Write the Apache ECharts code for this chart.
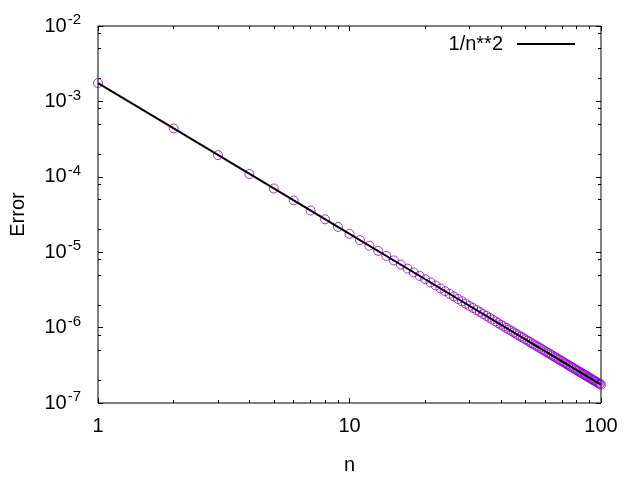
<!DOCTYPE html>
<html>
<head>
<meta charset="utf-8">
<script src="https://cdn.jsdelivr.net/npm/echarts@6/dist/echarts.min.js"></script>
<style>html,body{margin:0;padding:0;background:#fff}#c{width:640px;height:480px}</style>
</head>
<body>
<div id="c"></div>
<script>
const nValues = [1,2,3,4,5,6,7,8,9,10,11,12,13,14,15,16,17,18,19,20,21,22,23,24,25,26,27,28,29,30,31,32,33,34,35,36,37,38,39,40,41,42,43,44,45,46,47,48,49,50,51,52,53,54,55,56,57,58,59,60,61,62,63,64,65,66,67,68,69,70,71,72,73,74,75,76,77,78,79,80,81,82,83,84,85,86,87,88,89,90,91,92,93,94,95,96,97,98,99,100];
const errValues = [1.75e-3,4.38e-4,1.94e-4,1.09e-4,7.00e-5,4.86e-5,3.57e-5,2.73e-5,2.16e-5,1.75e-5,
1.45e-5,1.22e-5,1.04e-5,8.93e-6,7.78e-6,6.84e-6,6.06e-6,5.40e-6,4.85e-6,4.38e-6,
3.97e-6,3.62e-6,3.31e-6,3.04e-6,2.80e-6,2.59e-6,2.40e-6,2.23e-6,2.08e-6,1.94e-6,
1.82e-6,1.71e-6,1.61e-6,1.51e-6,1.43e-6,1.35e-6,1.28e-6,1.21e-6,1.15e-6,1.09e-6,
1.04e-6,9.92e-7,9.46e-7,9.04e-7,8.64e-7,8.27e-7,7.92e-7,7.60e-7,7.29e-7,7.00e-7,
6.73e-7,6.47e-7,6.23e-7,6.00e-7,5.79e-7,5.58e-7,5.39e-7,5.20e-7,5.03e-7,4.86e-7,
4.70e-7,4.55e-7,4.41e-7,4.27e-7,4.14e-7,4.02e-7,3.90e-7,3.78e-7,3.68e-7,3.57e-7,
3.47e-7,3.38e-7,3.28e-7,3.20e-7,3.11e-7,3.03e-7,2.95e-7,2.88e-7,2.80e-7,2.73e-7,
2.67e-7,2.60e-7,2.54e-7,2.48e-7,2.42e-7,2.37e-7,2.31e-7,2.26e-7,2.21e-7,2.16e-7,
2.11e-7,2.07e-7,2.02e-7,1.98e-7,1.94e-7,1.90e-7,1.86e-7,1.82e-7,1.79e-7,1.75e-7];
const lineN = [1,2,5,10,20,50,100];
const lineValues = [1.75e-3,4.38e-4,7.0e-5,1.75e-5,4.38e-6,7.0e-7,1.75e-7];
const lineName = '1/n**2';
const xMajorTicks = [1,10,100];
const xMinorTicks = [2,3,4,5,6,7,8,9,20,30,40,50,60,70,80,90];
const yMajorTicks = [1e-7,1e-6,1e-5,1e-4,1e-3,1e-2];
const yMinorTicks = [2e-7,5e-7,8e-7,2e-6,5e-6,8e-6,2e-5,5e-5,8e-5,2e-4,5e-4,8e-4,2e-3,5e-3,8e-3];

const FONT = "'Liberation Sans', Arial, sans-serif";
const FS = 20;
const chart = echarts.init(document.getElementById('c'));

function xAx(pos, major, withLabel) {
  return {
    type: 'log', logBase: 10, min: 1, max: 100, position: pos,
    axisLine: {show: false},
    splitLine: {show: false}, minorTick: {show: false},
    axisTick: {show: true, inside: true, length: major ? 5 : 3,
      lineStyle: {color: '#000', width: 1},
      customValues: major ? xMajorTicks : xMinorTicks},
    axisLabel: withLabel ? {show: true, customValues: xMajorTicks, color: '#000',
      fontSize: FS, fontFamily: FONT, margin: 13,
      formatter: v => String(Math.round(v))} : {show: false},
    name: withLabel ? 'n' : '', nameLocation: 'middle', nameGap: 52,
    nameTextStyle: {color: '#000', fontSize: FS, fontFamily: FONT}
  };
}
function yAx(pos, major, withLabel) {
  return {
    type: 'log', logBase: 10, min: 1e-7, max: 1e-2, position: pos,
    axisLine: {show: false},
    splitLine: {show: false}, minorTick: {show: false},
    axisTick: {show: true, inside: true, length: major ? 5 : 3,
      lineStyle: {color: '#000', width: 1},
      customValues: major ? yMajorTicks : yMinorTicks},
    axisLabel: withLabel ? {show: true, customValues: yMajorTicks, color: '#000',
      fontFamily: FONT, margin: 17,
      formatter: v => '{b|10}{s|' + Math.round(Math.log10(v)) + '}',
      rich: {
        b: {fontSize: FS, fontFamily: FONT, color: '#000'},
        s: {fontSize: 15, fontFamily: FONT, color: '#000', padding: [0, 0, 12, 1]}
      }} : {show: false},
    name: withLabel ? 'Error' : '', nameLocation: 'middle', nameGap: 70, nameRotate: 90,
    nameTextStyle: {color: '#000', fontSize: FS, fontFamily: FONT}
  };
}

chart.setOption({
  animation: false,
  backgroundColor: '#fff',
  grid: {left: 95, right: 39, top: 26, bottom: 77, show: true,
    borderColor: '#000', borderWidth: 1, backgroundColor: 'transparent'},
  legend: {
    data: [{name: lineName, icon: 'rect'}],
    right: 60, top: 29, align: 'right',
    itemWidth: 58, itemHeight: 2,
    textStyle: {color: '#000', fontSize: FS, fontFamily: FONT, padding: [0, 9, 0, 0]}
  },
  xAxis: [xAx('bottom', true, true), xAx('bottom', false, false), xAx('top', true, false), xAx('top', false, false)],
  yAxis: [yAx('left', true, true), yAx('left', false, false), yAx('right', true, false), yAx('right', false, false)],
  series: [
    {
      type: 'scatter', name: 'data', xAxisIndex: 0, yAxisIndex: 0,
      data: nValues.map((n, i) => [n, errValues[i]]),
      symbol: 'circle', symbolSize: 9,
      itemStyle: {color: 'rgba(0,0,0,0)', borderColor: '#9400d3', borderWidth: 1},
      z: 2
    },
    {
      type: 'line', name: lineName, xAxisIndex: 0, yAxisIndex: 0,
      data: lineN.map((n, i) => [n, lineValues[i]]),
      showSymbol: false, symbol: 'none',
      lineStyle: {color: '#000', width: 2}, itemStyle: {color: '#000'},
      z: 3
    }
  ]
});
</script>
</body>
</html>
